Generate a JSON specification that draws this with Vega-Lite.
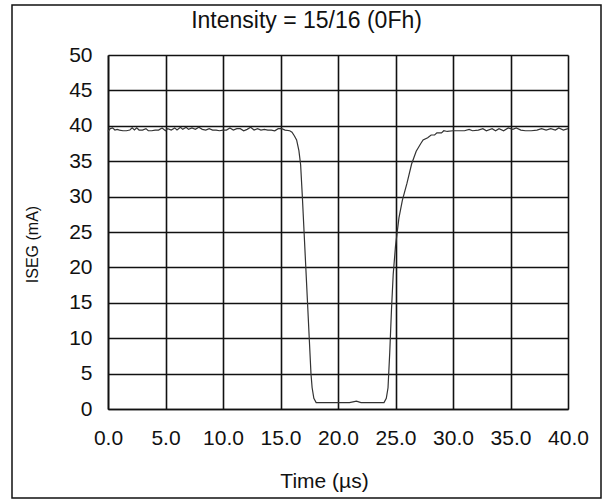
{
  "$schema": "https://vega.github.io/schema/vega-lite/v6.json",
  "autosize": {"type": "none"},
  "padding": {"left": 12, "top": 5, "right": 3, "bottom": 2},
  "width": 589,
  "height": 493,
  "background": "white",
  "title": {"text": "Intensity = 15/16 (0Fh)", "anchor": "middle", "frame": "group", "offset": -27, "dy": 19, "baseline": "alphabetic", "fontSize": 23, "font": "Liberation Sans", "fontWeight": "normal", "color": "#111"},
  "config": {
    "view": {"stroke": "#111", "strokeWidth": 1.5},
    "axis": {"labelFont": "Liberation Sans", "titleFont": "Liberation Sans", "labelColor": "#111", "titleColor": "#111", "titleFontWeight": "normal", "ticks": false, "tickSize": 0, "gridColor": "#111", "gridWidth": 1.6, "gridOpacity": 1, "domainColor": "#111", "domainWidth": 1.6, "labelOverlap": false, "labelFlush": false}
  },
  "data": {"values": [
    {"t": 0.0, "i": 39.2}, {"t": 0.2, "i": 39.6}, {"t": 0.4, "i": 39.7}, {"t": 0.6, "i": 39.4}, {"t": 0.8, "i": 39.5},
    {"t": 1.0, "i": 39.4}, {"t": 1.3, "i": 39.3}, {"t": 1.6, "i": 39.3}, {"t": 1.9, "i": 39.4}, {"t": 2.1, "i": 39.7},
    {"t": 2.3, "i": 39.4}, {"t": 2.5, "i": 39.7}, {"t": 2.7, "i": 39.4}, {"t": 3.0, "i": 39.4}, {"t": 3.3, "i": 39.6},
    {"t": 3.5, "i": 39.3}, {"t": 3.8, "i": 39.3}, {"t": 4.1, "i": 39.4}, {"t": 4.4, "i": 39.4}, {"t": 4.7, "i": 39.7},
    {"t": 5.0, "i": 39.3}, {"t": 5.2, "i": 39.6}, {"t": 5.5, "i": 39.4}, {"t": 5.8, "i": 39.7}, {"t": 6.0, "i": 39.4},
    {"t": 6.3, "i": 39.8}, {"t": 6.5, "i": 39.5}, {"t": 6.8, "i": 39.8}, {"t": 7.0, "i": 39.5}, {"t": 7.3, "i": 39.7},
    {"t": 7.6, "i": 39.5}, {"t": 7.9, "i": 39.8}, {"t": 8.2, "i": 39.5}, {"t": 8.5, "i": 39.4}, {"t": 8.8, "i": 39.6},
    {"t": 9.1, "i": 39.4}, {"t": 9.4, "i": 39.4}, {"t": 9.7, "i": 39.3}, {"t": 10.0, "i": 39.4}, {"t": 10.3, "i": 39.4},
    {"t": 10.6, "i": 39.7}, {"t": 10.9, "i": 39.4}, {"t": 11.2, "i": 39.6}, {"t": 11.5, "i": 39.6}, {"t": 11.8, "i": 39.3},
    {"t": 12.1, "i": 39.5}, {"t": 12.4, "i": 39.8}, {"t": 12.7, "i": 39.4}, {"t": 13.0, "i": 39.6}, {"t": 13.3, "i": 39.4},
    {"t": 13.6, "i": 39.5}, {"t": 13.9, "i": 39.4}, {"t": 14.2, "i": 39.4}, {"t": 14.5, "i": 39.3}, {"t": 14.8, "i": 39.6},
    {"t": 15.1, "i": 39.6}, {"t": 15.4, "i": 39.4}, {"t": 15.8, "i": 39.3}, {"t": 16.0, "i": 39.1},
    {"t": 16.2, "i": 38.6}, {"t": 16.4, "i": 38.0}, {"t": 16.6, "i": 36.5}, {"t": 16.75, "i": 34.5}, {"t": 16.9, "i": 30.0},
    {"t": 17.05, "i": 25.0}, {"t": 17.2, "i": 20.0}, {"t": 17.35, "i": 15.0}, {"t": 17.5, "i": 10.0}, {"t": 17.65, "i": 5.0},
    {"t": 17.75, "i": 3.0}, {"t": 17.9, "i": 1.5}, {"t": 18.1, "i": 0.9},
    {"t": 19.0, "i": 0.9}, {"t": 20.0, "i": 0.9}, {"t": 21.0, "i": 0.9}, {"t": 21.6, "i": 1.1}, {"t": 22.0, "i": 0.9},
    {"t": 23.0, "i": 0.9}, {"t": 24.0, "i": 0.9}, {"t": 24.2, "i": 1.5},
    {"t": 24.35, "i": 3.0}, {"t": 24.5, "i": 8.0}, {"t": 24.65, "i": 14.0}, {"t": 24.8, "i": 19.0}, {"t": 25.0, "i": 23.0},
    {"t": 25.3, "i": 27.0}, {"t": 25.6, "i": 29.5}, {"t": 26.0, "i": 31.9}, {"t": 26.4, "i": 34.6}, {"t": 26.8, "i": 36.4},
    {"t": 27.2, "i": 37.5}, {"t": 27.4, "i": 38.0}, {"t": 27.8, "i": 38.3}, {"t": 28.1, "i": 38.7}, {"t": 28.4, "i": 38.7},
    {"t": 28.6, "i": 39.0}, {"t": 29.0, "i": 39.0}, {"t": 29.2, "i": 39.3}, {"t": 29.5, "i": 39.2},
    {"t": 30.0, "i": 39.3}, {"t": 30.5, "i": 39.3}, {"t": 31.0, "i": 39.3}, {"t": 31.4, "i": 39.5}, {"t": 31.7, "i": 39.3},
    {"t": 32.2, "i": 39.4}, {"t": 32.6, "i": 39.6}, {"t": 32.9, "i": 39.3}, {"t": 33.4, "i": 39.6}, {"t": 33.7, "i": 39.3},
    {"t": 34.0, "i": 39.6}, {"t": 34.4, "i": 39.3}, {"t": 34.8, "i": 39.7}, {"t": 35.2, "i": 39.5}, {"t": 35.5, "i": 39.7},
    {"t": 35.9, "i": 39.4}, {"t": 36.3, "i": 39.3}, {"t": 36.8, "i": 39.3}, {"t": 37.3, "i": 39.4}, {"t": 37.7, "i": 39.6},
    {"t": 38.1, "i": 39.4}, {"t": 38.5, "i": 39.6}, {"t": 38.9, "i": 39.4}, {"t": 39.2, "i": 39.7}, {"t": 39.6, "i": 39.4},
    {"t": 40.0, "i": 39.6}
  ]},
  "resolve": {"axis": {"x": "independent"}},
  "layer": [
    {
      "mark": {"type": "line", "opacity": 0},
      "encoding": {
        "x": {
          "field": "t", "type": "quantitative",
          "scale": {"domain": [0, 40], "range": [96, 556], "nice": false},
          "axis": {"orient": "top", "values": [0, 5, 10, 15, 20, 25, 30, 35, 40], "grid": true, "labels": false, "domain": false, "title": null, "offset": 0}
        },
        "y": {
          "field": "i", "type": "quantitative",
          "scale": {"domain": [0, 50], "range": [404, 50], "nice": false, "zero": false},
          "axis": {"values": [0, 5, 10, 15, 20, 25, 30, 35, 40, 45, 50], "grid": true, "offset": -96, "labelFontSize": 21, "labelPadding": 16, "title": "ISEG (mA)", "titleFontSize": 16, "titleX": -76, "titleY": 239, "titleAngle": 270, "titleBaseline": "middle", "titleAlign": "center"}
        }
      }
    },
    {
      "mark": {"type": "line", "color": "#333", "strokeWidth": 1.2, "interpolate": "linear"},
      "encoding": {
        "x": {
          "field": "t", "type": "quantitative",
          "axis": {"orient": "bottom", "values": [0, 5, 10, 15, 20, 25, 30, 35, 40], "grid": false, "format": ".1f", "offset": -89, "labelFontSize": 21, "labelPadding": 18, "title": "Time (µs)", "titleFontSize": 21, "titleX": 312, "titleY": 78, "titleBaseline": "alphabetic", "titleAlign": "center"}
        },
        "y": {"field": "i", "type": "quantitative"}
      }
    }
  ]
}
